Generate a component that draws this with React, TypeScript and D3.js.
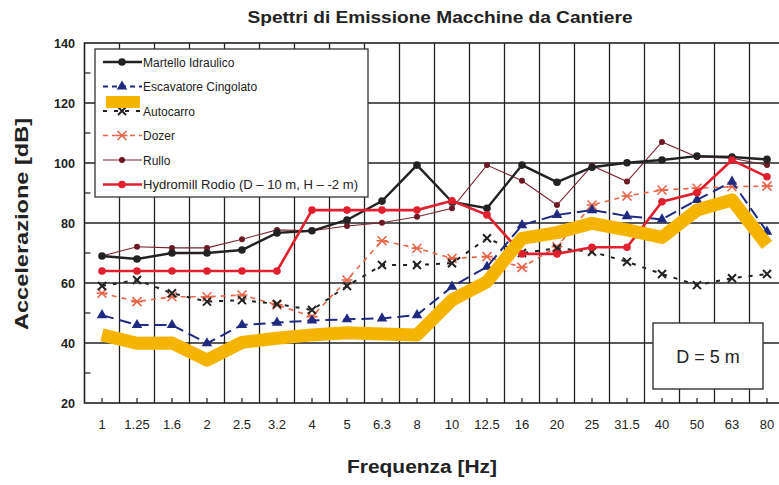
import React from "react";
import * as d3 from "d3";

const categories = ["1", "1.25", "1.6", "2", "2.5", "3.2", "4", "5", "6.3", "8", "10", "12.5", "16", "20", "25", "31.5", "40", "50", "63", "80"];
const yTicks = [20, 40, 60, 80, 100, 120, 140];

const martello = [69, 68, 70, 70, 71, 76.7, 77.4, 81, 87.3, 99.3, 87, 84.9, 99.3, 93.6, 98.6, 100.1, 101, 102.3, 102, 101.2];
const escavatore = [49.3, 46, 46, 39.9, 46, 46.8, 47.5, 47.9, 48.2, 49.3, 58.8, 65.4, 79.3, 82.7, 84.3, 82.3, 81.2, 87.7, 93.8, 77.1];
const autocarro = [59, 61, 56.6, 53.8, 54.3, 53, 51, 59, 66, 66, 66.6, 74.9, 70, 71.6, 70.4, 67.1, 63, 59.3, 61.6, 63];
const dozer = [56.6, 53.8, 55.4, 55.4, 56, 52.7, 48.8, 61, 74.1, 71.6, 68.2, 68.8, 65.2, 72.1, 86, 89, 91, 91.6, 92.1, 92.3];
const rullo = [69, 72.1, 71.7, 71.7, 74.6, 77.7, 77.4, 79, 80.1, 82.1, 84.9, 99.3, 94.1, 86, 99.1, 93.8, 107, 102, 101.6, 99.3];
const hydromill = [64, 64, 64, 64, 64, 64, 84.3, 84.3, 84.3, 84.3, 87.4, 82.7, 69.7, 69.7, 71.9, 71.9, 87.1, 90.1, 101, 95.4];
const overlay = [42.7, 39.9, 40, 34.3, 40.2, 41.6, 42.7, 43.4, 43, 42.7, 54.3, 60.4, 74.9, 76.8, 79.9, 77.7, 75.2, 84.3, 87.7, 72.7];

const legendLabels = ["Martello Idraulico", "Escavatore Cingolato", "Autocarro", "Dozer", "Rullo", "Hydromill Rodio (D – 10 m, H – -2 m)"];

const W = 779, H = 485;
const x = d3.scaleBand<string>().domain(categories).range([84.5, 784.5]).padding(0);
const y = d3.scaleLinear().domain([20, 140]).range([403, 43]);
const cx = (c: string) => (x(c) as number) + x.bandwidth() / 2;

type Marker = "circle" | "triangle" | "x" | "star" | "dot";
interface Series { name: string; values: number[]; color: string; width: number; dash?: string; marker: Marker; mcolor: string; }

const series: Series[] = [
  { name: legendLabels[4], values: rullo, color: "#7a2230", width: 1.1, marker: "dot", mcolor: "#6b1a25" },
  { name: legendLabels[3], values: dozer, color: "#e8674a", width: 1.6, dash: "5,5", marker: "star", mcolor: "#e8674a" },
  { name: legendLabels[2], values: autocarro, color: "#222", width: 2, dash: "4,7", marker: "x", mcolor: "#222" },
  { name: legendLabels[1], values: escavatore, color: "#1f2a80", width: 2, dash: "12,6", marker: "triangle", mcolor: "#1f2a80" },
  { name: legendLabels[0], values: martello, color: "#222", width: 2.4, marker: "circle", mcolor: "#222" },
  { name: legendLabels[5], values: hydromill, color: "#e0202e", width: 2.6, marker: "circle", mcolor: "#e0202e" },
];

function MarkerShape({ m, px, py, color }: { m: Marker; px: number; py: number; color: string }) {
  if (m === "circle") return <circle cx={px} cy={py} r={3.8} fill={color} />;
  if (m === "dot") return <circle cx={px} cy={py} r={3} fill={color} />;
  if (m === "triangle") {
    const p = d3.symbol().type(d3.symbolTriangle).size(48)();
    return <path d={p as string} transform={`translate(${px},${py})`} fill={color} />;
  }
  if (m === "x") {
    const s = 4;
    return <path d={`M${px - s},${py - s}L${px + s},${py + s}M${px + s},${py - s}L${px - s},${py + s}`} stroke={color} strokeWidth={2} />;
  }
  const s = 4.5;
  return <path d={`M${px - s},${py - s}L${px + s},${py + s}M${px + s},${py - s}L${px - s},${py + s}M${px - s - 1},${py}L${px + s + 1},${py}`} stroke={color} strokeWidth={1.6} />;
}

export default function App() {
  const line = d3.line<number>().x((_, i) => cx(categories[i])).y((v) => y(v));
  const font = "'Liberation Sans', Arial, sans-serif";
  const gridY = [40, 60, 80, 100, 120];
  const minorY = [30, 50, 70, 90, 110, 130];
  const legendX = 95, legendY = 49, legendW = 273, legendH = 148;
  const rowY = (i: number) => 62 + i * 24.5;
  return (
    <svg width={W} height={H} style={{ position: "absolute", left: 0, top: 0, background: "#fff" }} fontFamily={font}>
      <rect x={0} y={0} width={W} height={H} fill="#fff" />
      <text x={440} y={23} textAnchor="middle" fontSize={16} fontWeight="bold" fill="#222" textLength={385} lengthAdjust="spacingAndGlyphs">Spettri di Emissione Macchine da Cantiere</text>
      {/* grid */}
      {gridY.map((v) => <line key={"gy" + v} x1={x.range()[0]} x2={x.range()[1]} y1={y(v)} y2={y(v)} stroke="#222" strokeWidth={1.3} />)}
      {categories.slice(1).map((c) => <line key={"gx" + c} x1={x(c) as number} x2={x(c) as number} y1={y(140)} y2={y(20)} stroke="#222" strokeWidth={1.3} />)}
      <rect x={x.range()[0]} y={y(140)} width={x.range()[1] - x.range()[0]} height={y(20) - y(140)} fill="none" stroke="#222" strokeWidth={1.6} />
      {minorY.map((v) => <line key={"my" + v} x1={x.range()[0]} x2={x.range()[0] + 6} y1={y(v)} y2={y(v)} stroke="#222" strokeWidth={1.2} />)}
      {categories.map((c) => <line key={"mx" + c} x1={cx(c)} x2={cx(c)} y1={y(20)} y2={y(20) - 5} stroke="#222" strokeWidth={1.2} />)}
      {yTicks.map((v) => <text key={"yt" + v} x={75} y={y(v) + 4.5} textAnchor="end" fontSize={13} fill="#222" fontWeight="bold" textLength={String(v).length * 7} lengthAdjust="spacingAndGlyphs">{v}</text>)}
      {categories.map((c) => <text key={"xt" + c} x={cx(c)} y={429} textAnchor="middle" fontSize={13} fill="#222">{c}</text>)}
      <text x={422} y={473} textAnchor="middle" fontSize={18} fontWeight="bold" fill="#222" textLength={150} lengthAdjust="spacingAndGlyphs">Frequenza [Hz]</text>
      <text transform="translate(28,224) rotate(-90)" textAnchor="middle" fontSize={18} fontWeight="bold" fill="#222" textLength={212} lengthAdjust="spacingAndGlyphs">Accelerazione [dB]</text>
      {/* D = 5 m box */}
      <rect x={653} y={323} width={110} height={66} fill="#fff" stroke="#333" strokeWidth={1.4} />
      <text x={708} y={363} textAnchor="middle" fontSize={18} fill="#222">D = 5 m</text>
      {/* series */}
      {series.map((s) => (
        <g key={s.name}>
          <path d={line(s.values) as string} fill="none" stroke={s.color} strokeWidth={s.width} strokeDasharray={s.dash} />
          {s.values.map((v, i) => <MarkerShape key={i} m={s.marker} px={cx(categories[i])} py={y(v)} color={s.mcolor} />)}
        </g>
      ))}
      <path d={line(overlay) as string} fill="none" stroke="#f5b400" strokeWidth={13} strokeLinejoin="round" />
      {/* legend */}
      <rect x={legendX} y={legendY} width={legendW} height={legendH} fill="#fff" stroke="#333" strokeWidth={1.3} />
      {[0, 1, 2, 3, 4, 5].map((i) => {
        const s = series.find((q) => q.name === legendLabels[i]) as Series;
        return (
          <g key={"lg" + i}>
            <line x1={103} x2={142} y1={rowY(i)} y2={rowY(i)} stroke={s.color} strokeWidth={s.width} strokeDasharray={s.dash ? (s.marker === "x" ? "4,7" : "5,4") : undefined} />
            <MarkerShape m={s.marker} px={122} py={rowY(i)} color={s.mcolor} />
            <text x={143} y={rowY(i) + 4.5} fontSize={12} fill="#222" textLength={i === 5 ? 215 : undefined} lengthAdjust="spacingAndGlyphs">{legendLabels[i]}</text>
          </g>
        );
      })}
      <line x1={106} x2={140} y1={102} y2={102} stroke="#f5b400" strokeWidth={12} />
    </svg>
  );
}
